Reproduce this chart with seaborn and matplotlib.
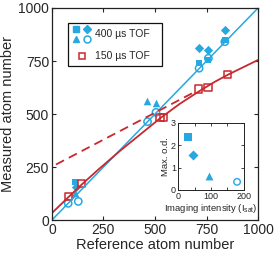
import matplotlib
matplotlib.use("Agg")
import matplotlib.pyplot as plt
import seaborn as sns
from matplotlib.patches import Rectangle

# 400 us TOF, one list per imaging intensity (marker)
SQUARE_REF = [113, 714, 759, 839]
SQUARE_MEAS = [178, 739, 755, 849]
DIAMOND_REF = [117, 714, 759, 839]
DIAMOND_MEAS = [155, 810, 802, 896]
TRIANGLE_REF = [110, 463, 505]
TRIANGLE_MEAS = [130, 560, 553]
CIRCLE_REF = [79, 128, 464, 505, 714, 759, 839]
CIRCLE_MEAS = [79, 88, 464, 508, 716, 763, 841]

# 150 us TOF
RED_REF = [79, 144, 524, 540, 712, 757, 853]
RED_MEAS = [110, 173, 483, 483, 618, 624, 687]

# fit curves
BLUE_FIT_X = [0, 1000]
BLUE_FIT_Y = [0, 1000]
RED_FIT_X = [0, 80, 145, 225, 330, 430, 525, 620, 712, 790, 855, 1000]
RED_FIT_Y = [33, 108, 168, 238, 326, 405, 480, 548, 606, 652, 686, 755]
RED_DASH_X = [20, 700]
RED_DASH_Y = [262, 608]

# inset
INTENSITY = [29, 45, 95, 179]
MAX_OD = [2.36, 1.54, 0.64, 0.36]
INSET_MARKERS = ["s", "D", "^", "o"]

BLUE = "#27a8e0"
RED = "#c8282e"

sns.set_theme(style="ticks")
plt.rcParams["font.family"] = ["Liberation Sans", "DejaVu Sans"]
plt.rcParams["mathtext.default"] = "regular"
plt.rcParams["axes.edgecolor"] = "#222222"
plt.rcParams["xtick.direction"] = "in"
plt.rcParams["ytick.direction"] = "in"

fig = plt.figure(figsize=(2.76, 2.58), dpi=100)
ax = fig.add_axes([0.188, 0.147, 0.747, 0.822])

sns.lineplot(x=BLUE_FIT_X, y=BLUE_FIT_Y, ax=ax, color=BLUE, linewidth=1.1, sort=False)
sns.lineplot(x=RED_FIT_X, y=RED_FIT_Y, ax=ax, color=RED, linewidth=1.3, sort=False)
sns.lineplot(x=RED_DASH_X, y=RED_DASH_Y, ax=ax, color=RED, linewidth=1.3,
             linestyle=(0, (5, 3)), sort=False)

ms = 25
sns.scatterplot(x=SQUARE_REF, y=SQUARE_MEAS, ax=ax, marker="s", color=BLUE,
                s=ms, linewidth=0)
sns.scatterplot(x=DIAMOND_REF, y=DIAMOND_MEAS, ax=ax, marker="D", color=BLUE,
                s=ms * 0.9, linewidth=0)
sns.scatterplot(x=TRIANGLE_REF, y=TRIANGLE_MEAS, ax=ax, marker="^", color=BLUE,
                s=ms * 1.2, linewidth=0)
sns.scatterplot(x=CIRCLE_REF, y=CIRCLE_MEAS, ax=ax, marker="o", facecolor="none",
                edgecolor=BLUE, s=ms * 1.1, linewidth=1.1)
sns.scatterplot(x=RED_REF, y=RED_MEAS, ax=ax, marker="s", facecolor="none",
                edgecolor=RED, s=ms * 1.1, linewidth=1.1)

ax.set_xlim(0, 1000)
ax.set_ylim(0, 1000)
ax.set_xticks([0, 250, 500, 750, 1000])
ax.set_yticks([0, 250, 500, 750, 1000])
ax.tick_params(labelsize=10, length=3, width=0.8, top=True, right=True, pad=2)
ax.set_xlabel("Reference atom number", fontsize=10.5, labelpad=1)
ax.set_ylabel("Measured atom number", fontsize=10.5, labelpad=2)
for s in ax.spines.values():
    s.set_linewidth(0.9)

# legend drawn by hand (2x2 marker block)
ax.add_patch(Rectangle((0.078, 0.726), 0.456, 0.203, transform=ax.transAxes,
                       facecolor="white", edgecolor="#111111", linewidth=0.9, zorder=5))
lkw = dict(transform=ax.transAxes, zorder=6, linestyle="none", color=BLUE)
ax.plot([0.117], [0.901], marker="s", markersize=4.5, **lkw)
ax.plot([0.170], [0.901], marker="D", markersize=4.2, **lkw)
ax.plot([0.117], [0.854], marker="^", markersize=5, **lkw)
ax.plot([0.170], [0.854], marker="o", markersize=5, markerfacecolor="none",
        markeredgewidth=1.1, **lkw)
ax.plot([0.146], [0.774], marker="s", markersize=4.5, markerfacecolor="none",
        markeredgecolor=RED, markeredgewidth=1.1, transform=ax.transAxes,
        zorder=6, linestyle="none")
ax.text(0.209, 0.877, "400 µs TOF", transform=ax.transAxes, fontsize=7.5,
        va="center", zorder=6)
ax.text(0.209, 0.774, "150 µs TOF", transform=ax.transAxes, fontsize=7.5,
        va="center", zorder=6)

# inset
ins = fig.add_axes([0.645, 0.264, 0.239, 0.260])
for x, y, m in zip(INTENSITY, MAX_OD, INSET_MARKERS):
    if m == "o":
        sns.scatterplot(x=[x], y=[y], ax=ins, marker=m, facecolor="none",
                        edgecolor=BLUE, s=22, linewidth=1.0)
    else:
        sns.scatterplot(x=[x], y=[y], ax=ins, marker=m, color=BLUE,
                        s=26 if m != "^" else 32, linewidth=0)
ins.set_xlim(0, 200)
ins.set_ylim(0, 3)
ins.set_xticks([0, 50, 100, 150, 200])
ins.set_xticklabels(["0", "", "100", "", "200"])
ins.set_yticks([0, 1, 2, 3])
ins.tick_params(labelsize=6.5, length=2, width=0.6, top=True, right=True, pad=1.5)
ins.set_xlabel("Imaging intensity (I$_{sat}$)", fontsize=6.8, labelpad=1)
ins.set_ylabel("Max. o.d.", fontsize=6.8, labelpad=1)
for s in ins.spines.values():
    s.set_linewidth(0.7)

fig.savefig("out.png", dpi=100)
